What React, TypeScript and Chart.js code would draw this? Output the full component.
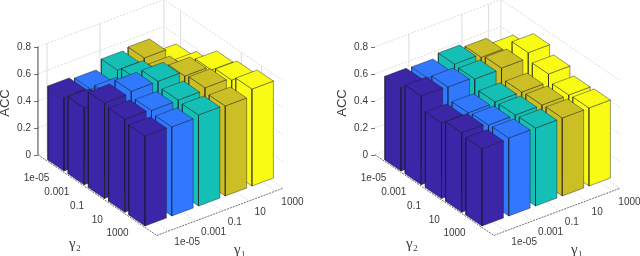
import React, { useEffect, useRef } from "react";
import { Chart, registerables } from "chart.js";

Chart.register(...registerables);

const tickLabels = ["1e-05", "0.001", "0.1", "10", "1000"];
const accTicks = [0, 0.2, 0.4, 0.6, 0.8];
const columnColors = ["#3c26a8", "#3079fe", "#14bfb5", "#ccbf26", "#f9fb15"];

// ACC per gamma1 column (outer), per gamma2 row (inner)
const leftAcc = [
  [0.548, 0.57, 0.707, 0.69, 0.667],
  [0.533, 0.58, 0.72, 0.68, 0.66],
  [0.6, 0.63, 0.72, 0.683, 0.674],
  [0.615, 0.59, 0.685, 0.7, 0.667],
  [0.504, 0.55, 0.656, 0.683, 0.718],
];
const rightAcc = [
  [0.62, 0.657, 0.56, 0.589, 0.573],
  [0.615, 0.65, 0.561, 0.572, 0.578],
  [0.644, 0.635, 0.568, 0.572, 0.577],
  [0.62, 0.642, 0.566, 0.572, 0.578],
  [0.57, 0.682, 0.626, 0.572, 0.578],
];
const leftWallI = [-0.11, 1.87];
const leftWallJ = [0, 3, 4];
const rightWallI = [0.82, 2.8, 3.8];
const rightWallJ: number[] = [];

// oblique view of the 3D box
const I_MIN = -0.45, I_MAX = 4.26, J_MIN = -0.82, J_MAX = 5.05;
const HALF = 0.4;
const UNIT = 135, ZERO_Y = 155;
const project = (i: number, j: number, z: number) => ({
  x: 66.6 + 26.75 * i + 20.25 * j,
  y: z + (ZERO_Y - (161.5 - 10 * i + 13.75 * j)) / UNIT,
});

const GRID = "#d0d0d0";
const line = (pts: any[], color: string, width: number, dash: number[] = []) => ({
  data: pts,
  showLine: true,
  fill: false,
  borderColor: color,
  borderWidth: width,
  borderDash: dash,
  pointRadius: 0,
  clip: false,
});
const face = (pts: any[], color: string) => ({
  data: [...pts, pts[0]],
  showLine: true,
  fill: "shape",
  backgroundColor: color,
  borderColor: "rgba(25,25,35,0.62)",
  borderWidth: 0.7,
  borderJoinStyle: "round",
  pointRadius: 0,
  clip: false,
});

function buildDatasets(acc: number[][], wallI: number[], wallJ: number[], axisLine: boolean) {
  const drawn: any[] = [];
  // walls
  accTicks.forEach((z) => {
    drawn.push(line([project(I_MIN, J_MIN, z), project(I_MAX, J_MIN, z), project(I_MAX, J_MAX, z)], GRID, 0.8, [2, 1.5]));
  });
  wallI.forEach((i) => drawn.push(line([project(i, J_MIN, 0), project(i, J_MIN, 0.8)], "#dcdcdc", 1)));
  wallJ.forEach((j) => drawn.push(line([project(I_MAX, j, 0), project(I_MAX, j, 0.8)], "#dcdcdc", 1)));
  drawn.push(line([project(I_MAX, J_MIN, 0), project(I_MAX, J_MIN, 0.8)], "#dcdcdc", 1));
  // floor
  [0, 1, 2, 3, 4].forEach((k) => {
    drawn.push(line([project(k, J_MIN, 0), project(k, J_MAX, 0)], GRID, 0.8, [2, 1.5]));
    drawn.push(line([project(I_MIN, k, 0), project(I_MAX, k, 0)], GRID, 0.8, [2, 1.5]));
  });
  // axes
  drawn.push(line([project(I_MIN, J_MIN, 0), project(I_MIN, J_MAX, 0)], "#606060", 0.9, [2, 1]));
  drawn.push(line([project(I_MIN, J_MAX, 0), project(I_MAX, J_MAX, 0)], "#606060", 0.9, [2, 1]));
  if (axisLine) drawn.push(line([project(I_MIN, J_MIN, 0), project(I_MIN, J_MIN, 0.8)], "#404040", 1));
  // bars, back to front
  const cells: { i: number; j: number }[] = [];
  for (let i = 0; i < 5; i++) for (let j = 0; j < 5; j++) cells.push({ i, j });
  cells.sort((a, b) => a.j - a.i - (b.j - b.i));
  cells.forEach(({ i, j }) => {
    const z = acc[i][j];
    const c = columnColors[i];
    const i0 = i - HALF, i1 = i + HALF, j0 = j - HALF, j1 = j + HALF;
    drawn.push(face([project(i0, j0, 0), project(i0, j1, 0), project(i0, j1, z), project(i0, j0, z)], c));
    drawn.push(face([project(i0, j1, 0), project(i1, j1, 0), project(i1, j1, z), project(i0, j1, z)], c));
    drawn.push(face([project(i0, j0, z), project(i0, j1, z), project(i1, j1, z), project(i1, j0, z)], c));
  });
  // chart.js paints the first dataset last
  return drawn.reverse();
}

const textPlugin = {
  id: "axisText",
  afterDraw(chart: any) {
    const { ctx, scales } = chart;
    const X = (v: number) => scales.x.getPixelForValue(v);
    const Y = (v: number) => scales.y.getPixelForValue(v);
    ctx.save();
    ctx.fillStyle = "#3a3a3a";
    ctx.textBaseline = "middle";
    ctx.font = "10px 'Liberation Sans'";
    tickLabels.forEach((t, k) => {
      const a = project(I_MIN, k, 0);
      ctx.textAlign = "center";
      ctx.fillText(t, X(a.x) - 18, Y(a.y) + 12.5);
      const b = project(k, J_MAX, 0);
      ctx.textAlign = "left";
      ctx.fillText(t, X(b.x) + 5.5, Y(b.y) + 11.5);
    });
    ctx.textAlign = "center";
    ctx.font = "15px 'Liberation Serif'";
    ctx.fillText("γ₂", X(75), 244);
    ctx.fillText("γ₁", X(240), 250);
    ctx.font = "13px 'Liberation Sans'";
    ctx.translate(X(5.5), 103);
    ctx.rotate(-Math.PI / 2);
    ctx.fillText("ACC", 0, 0);
    ctx.restore();
  },
};

function Panel({ acc, wallI, wallJ, axisLine, axisWidth, xMax, left }: any) {
  const ref = useRef<HTMLCanvasElement>(null);
  useEffect(() => {
    const chart = new Chart(ref.current as any, {
      type: "scatter",
      data: { datasets: buildDatasets(acc, wallI, wallJ, axisLine) as any },
      plugins: [textPlugin],
      options: {
        animation: false,
        responsive: false,
        layout: { padding: 0, autoPadding: false },
        plugins: { legend: { display: false }, tooltip: { enabled: false } },
        elements: { line: { tension: 0 } },
        scales: {
          x: { type: "linear", display: false, min: 38, max: xMax },
          y: {
            type: "linear",
            min: (ZERO_Y - 256) / UNIT,
            max: ZERO_Y / UNIT,
            afterFit: (s: any) => { s.width = axisWidth; s.paddingTop = 0; s.paddingBottom = 0; },
            afterBuildTicks: (s: any) => { s.ticks = accTicks.map((value) => ({ value })); },
            border: { display: false },
            grid: { display: true, drawOnChartArea: false, drawTicks: true, tickLength: 4, color: "#707070", lineWidth: 1 },
            ticks: {
              padding: 3,
              color: "#3a3a3a",
              autoSkip: false,
              font: { family: "'Liberation Sans'", size: 10 },
              callback: (v: any) => String(v),
            },
          },
        },
      } as any,
    });
    return () => chart.destroy();
  }, []);
  return <canvas ref={ref} width={320} height={256} style={{ position: "absolute", left, top: 0, width: 320, height: 256 }} />;
}

export default function App() {
  return (
    <div style={{ position: "absolute", left: 0, top: 0, width: 640, height: 256, background: "#fff", overflow: "hidden" }}>
      <Panel acc={leftAcc} wallI={leftWallI} wallJ={leftWallJ} axisLine axisWidth={38} xMax={320} left={0} />
      <Panel acc={rightAcc} wallI={rightWallI} wallJ={rightWallJ} axisLine={false} axisWidth={55} xMax={303} left={320} />
    </div>
  );
}
